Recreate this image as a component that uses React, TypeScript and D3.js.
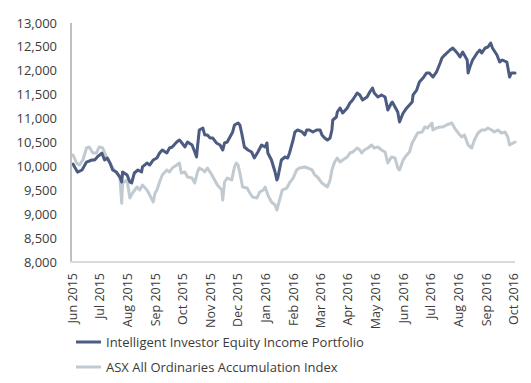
import React from "react";
import * as d3 from "d3";

const monthLabels = [
  "Jun 2015", "Jul 2015", "Aug 2015", "Sep 2015", "Oct 2015", "Nov 2015", "Dec 2015",
  "Jan 2016", "Feb 2016", "Mar 2016", "Apr 2016", "May 2016", "Jun 2016", "Jul 2016",
  "Aug 2016", "Sep 2016", "Oct 2016",
];

const yTicks = [8000, 8500, 9000, 9500, 10000, 10500, 11000, 11500, 12000, 12500, 13000];

const seriesNames = [
  "Intelligent Investor Equity Income Portfolio",
  "ASX All Ordinaries Accumulation Index",
];

const portfolioDates = [
  "2015-06-01","2015-06-06","2015-06-11","2015-06-16","2015-06-22","2015-06-25","2015-06-28",
  "2015-07-03","2015-07-06","2015-07-09","2015-07-12","2015-07-15","2015-07-19","2015-07-23",
  "2015-07-25","2015-07-26","2015-07-31","2015-08-03","2015-08-05","2015-08-08","2015-08-12",
  "2015-08-16","2015-08-17","2015-08-22","2015-08-25","2015-08-29","2015-09-02","2015-09-05",
  "2015-09-08","2015-09-13","2015-09-16","2015-09-19","2015-09-24","2015-09-27","2015-09-29",
  "2015-10-03","2015-10-06","2015-10-11","2015-10-14","2015-10-16","2015-10-17","2015-10-19",
  "2015-10-23","2015-10-25","2015-10-28","2015-10-31","2015-11-03","2015-11-07","2015-11-11",
  "2015-11-14","2015-11-16","2015-11-19","2015-11-22","2015-11-25","2015-11-27","2015-12-01",
  "2015-12-03","2015-12-05","2015-12-08","2015-12-12","2015-12-16","2015-12-19","2015-12-23",
  "2015-12-27","2015-12-31","2016-01-02","2016-01-03","2016-01-07","2016-01-11","2016-01-13",
  "2016-01-14","2016-01-18","2016-01-22","2016-01-25","2016-01-27","2016-01-31","2016-02-02",
  "2016-02-05","2016-02-10","2016-02-13","2016-02-15","2016-02-18","2016-02-22","2016-02-26",
  "2016-03-01","2016-03-03","2016-03-06","2016-03-09","2016-03-12","2016-03-14","2016-03-15",
  "2016-03-19","2016-03-20","2016-03-23","2016-03-26","2016-03-31","2016-04-03","2016-04-06",
  "2016-04-11","2016-04-14","2016-04-17","2016-04-22","2016-04-25","2016-04-28","2016-04-30",
  "2016-05-04","2016-05-08","2016-05-12","2016-05-15","2016-05-19","2016-05-20","2016-05-23",
  "2016-05-26","2016-05-28","2016-06-01","2016-06-05","2016-06-08","2016-06-11","2016-06-12",
  "2016-06-16","2016-06-19","2016-06-23","2016-06-27","2016-06-30","2016-07-04","2016-07-08",
  "2016-07-12","2016-07-14","2016-07-17","2016-07-23","2016-07-26","2016-07-31","2016-08-03",
  "2016-08-06","2016-08-11","2016-08-12","2016-08-14","2016-08-17","2016-08-22","2016-08-25",
  "2016-08-27","2016-08-31","2016-09-03","2016-09-06","2016-09-08","2016-09-13","2016-09-16",
  "2016-09-19","2016-09-24","2016-09-25","2016-09-27","2016-09-29","2016-10-03",
];
const portfolioValues = [
  10050, 9880, 9925, 10090, 10134, 10134, 10197,
  10280, 10134, 10176, 10071, 9925, 9883, 9778,
  9674, 9883, 9820, 9674, 9653, 9862, 9925,
  9883, 9988, 10071, 10029, 10134, 10176, 10280,
  10343, 10280, 10385, 10406, 10510, 10552, 10510,
  10406, 10510, 10448, 10301, 10197, 10406, 10762,
  10803, 10657, 10657, 10594, 10594, 10490, 10448,
  10343, 10490, 10510, 10615, 10720, 10866, 10908,
  10866, 10699, 10406, 10343, 10301, 10176, 10301,
  10448, 10406, 10490, 10280, 10134, 9883, 9716,
  9757, 10134, 10197, 10176, 10280, 10552, 10720,
  10762, 10720, 10657, 10762, 10762, 10720, 10762,
  10762, 10657, 10594, 10552, 10594, 10762, 10971,
  11034, 11138, 11222, 11117, 11222, 11326, 11389,
  11536, 11494, 11389, 11452, 11557, 11640, 11536,
  11452, 11494, 11452, 11180, 11326, 11347, 11243,
  11138, 10929, 11117, 11222, 11285, 11347, 11494,
  11598, 11766, 11849, 11954, 11954, 11870, 11975,
  12163, 12268, 12330, 12435, 12477, 12372, 12289,
  12393, 12226, 11954, 12080, 12226, 12372, 12435,
  12372, 12477, 12498, 12582, 12477, 12330, 12184,
  12226, 12184, 12080, 11870, 11954, 11954,
];

const indexDates = [
  "2015-06-01","2015-06-05","2015-06-08","2015-06-12","2015-06-16","2015-06-19","2015-06-23",
  "2015-06-27","2015-06-30","2015-07-04","2015-07-08","2015-07-12","2015-07-15","2015-07-19",
  "2015-07-23","2015-07-25","2015-07-26","2015-07-31","2015-08-03","2015-08-06","2015-08-11",
  "2015-08-14","2015-08-17","2015-08-22","2015-08-25","2015-08-29","2015-08-31","2015-09-02",
  "2015-09-05","2015-09-08","2015-09-13","2015-09-16","2015-09-19","2015-09-24","2015-09-27",
  "2015-09-29","2015-10-03","2015-10-06","2015-10-11","2015-10-14","2015-10-17","2015-10-19",
  "2015-10-23","2015-10-25","2015-10-28","2015-11-02","2015-11-05","2015-11-08","2015-11-13",
  "2015-11-14","2015-11-16","2015-11-19","2015-11-24","2015-11-27","2015-11-29","2015-12-01",
  "2015-12-03","2015-12-06","2015-12-11","2015-12-14","2015-12-17","2015-12-22","2015-12-25",
  "2015-12-29","2015-12-31","2016-01-03","2016-01-07","2016-01-11","2016-01-13","2016-01-16",
  "2016-01-19","2016-01-24","2016-01-27","2016-01-31","2016-02-04","2016-02-07","2016-02-13",
  "2016-02-16","2016-02-21","2016-02-24","2016-02-27","2016-03-03","2016-03-06","2016-03-09",
  "2016-03-12","2016-03-14","2016-03-17","2016-03-20","2016-03-23","2016-03-26","2016-03-31",
  "2016-04-03","2016-04-06","2016-04-11","2016-04-14","2016-04-16","2016-04-19","2016-04-23",
  "2016-04-27","2016-04-30","2016-05-04","2016-05-08","2016-05-12","2016-05-15","2016-05-19",
  "2016-05-23","2016-05-26","2016-05-28","2016-06-01","2016-06-05","2016-06-08","2016-06-11",
  "2016-06-14","2016-06-17","2016-06-22","2016-06-25","2016-06-28","2016-07-03","2016-07-04",
  "2016-07-08","2016-07-12","2016-07-15","2016-07-19","2016-07-25","2016-07-28","2016-08-01",
  "2016-08-05","2016-08-08","2016-08-12","2016-08-16","2016-08-19","2016-08-23","2016-08-27",
  "2016-08-31","2016-09-03","2016-09-07","2016-09-10","2016-09-14","2016-09-18","2016-09-22",
  "2016-09-25","2016-09-27","2016-10-01","2016-10-03",
];
const indexValues = [
  10239, 10071, 10029, 10134, 10385, 10406, 10280,
  10280, 10406, 10385, 10197, 10071, 9967, 9862,
  9778, 9230, 9653, 9716, 9339, 9444, 9569,
  9506, 9611, 9506, 9402, 9255, 9444, 9506,
  9674, 9820, 9925, 9883, 9967, 10029, 10071,
  9862, 9883, 9778, 9757, 9653, 9883, 9967,
  9925, 9883, 9967, 9820, 9716, 9611, 9506,
  9297, 9674, 9757, 9716, 9988, 10071, 10029,
  9862, 9569, 9548, 9444, 9360, 9339, 9465,
  9506, 9569, 9402, 9255, 9193, 9088, 9297,
  9506, 9548, 9653, 9757, 9925, 9967, 9988,
  9967, 9925, 9820, 9778, 9653, 9611, 9569,
  9716, 9925, 10092, 10176, 10092, 10134, 10197,
  10280, 10301, 10385, 10343, 10280, 10343, 10385,
  10448, 10385, 10406, 10343, 10301, 10071, 10197,
  10176, 9967, 9925, 10134, 10239, 10301, 10490,
  10594, 10699, 10720, 10824, 10803, 10908, 10762,
  10803, 10824, 10824, 10866, 10908, 10803, 10699,
  10615, 10657, 10448, 10385, 10552, 10699, 10762,
  10762, 10803, 10762, 10720, 10762, 10699, 10720,
  10615, 10448, 10490, 10510,
];

const colors = ["#4b5b82", "#c1cad1"];

const W = 531;
const H = 383;

export default function App() {
  const parse = d3.timeParse("%Y-%m-%d");
  const parseMonth = d3.timeParse("%b %Y");
  const x = d3
    .scaleTime()
    .domain([parse("2015-06-01")!, parse("2016-10-03")!])
    .range([73, 515]);
  const y = d3.scaleLinear().domain([8000, 13000]).range([262, 23]);

  const series = [
    portfolioDates.map((d, i) => ({ date: parse(d)!, value: portfolioValues[i] })),
    indexDates.map((d, i) => ({ date: parse(d)!, value: indexValues[i] })),
  ];
  const line = d3
    .line<{ date: Date; value: number }>()
    .x((d) => x(d.date))
    .y((d) => y(d.value));

  const fmt = d3.format(",");
  const font = "'Open Sans', sans-serif";
  const textColor = "#3b3b3b";

  return (
    <svg
      width={W}
      height={H}
      style={{ position: "absolute", left: 0, top: 0, background: "#fff" }}
      fontFamily={font}
    >
      {/* y labels */}
      {yTicks.map((t) => (
        <text
          key={t}
          x={57}
          y={y(t)}
          dy="0.35em"
          textAnchor="end"
          fontSize={13}
          fill={textColor}
        >
          {fmt(t)}
        </text>
      ))}
      {/* x labels */}
      {monthLabels.map((m) => {
        const tx = x(parseMonth(m)!);
        return (
          <text
            key={m}
            transform={`translate(${tx},273) rotate(-90)`}
            dy="0.35em"
            textAnchor="end"
            fontSize={12.5}
            fill={textColor}
          >
            {m}
          </text>
        );
      })}
      {/* series lines: index first (behind) */}
      {[1, 0].map((i) => (
        <path
          key={i}
          d={line(series[i]) || ""}
          fill="none"
          stroke={colors[i]}
          strokeWidth={3}
          strokeLinejoin="round"
          strokeLinecap="round"
        />
      ))}
      {/* axes */}
      <line x1={71} x2={71} y1={y(13000)} y2={y(8000) + 1} stroke="#c0c0c0" strokeWidth={2} />
      <line x1={70} x2={515} y1={y(8000)} y2={y(8000)} stroke="#d9d9d9" strokeWidth={2} />
      {/* legend */}
      {seriesNames.map((name, i) => (
        <g key={name} transform={`translate(0,${342 + i * 25})`}>
          <line x1={76} x2={101} y1={0} y2={0} stroke={colors[i]} strokeWidth={3} />
          <text x={106} y={0} dy="0.35em" fontSize={13} fill={textColor}>
            {name}
          </text>
        </g>
      ))}
    </svg>
  );
}
